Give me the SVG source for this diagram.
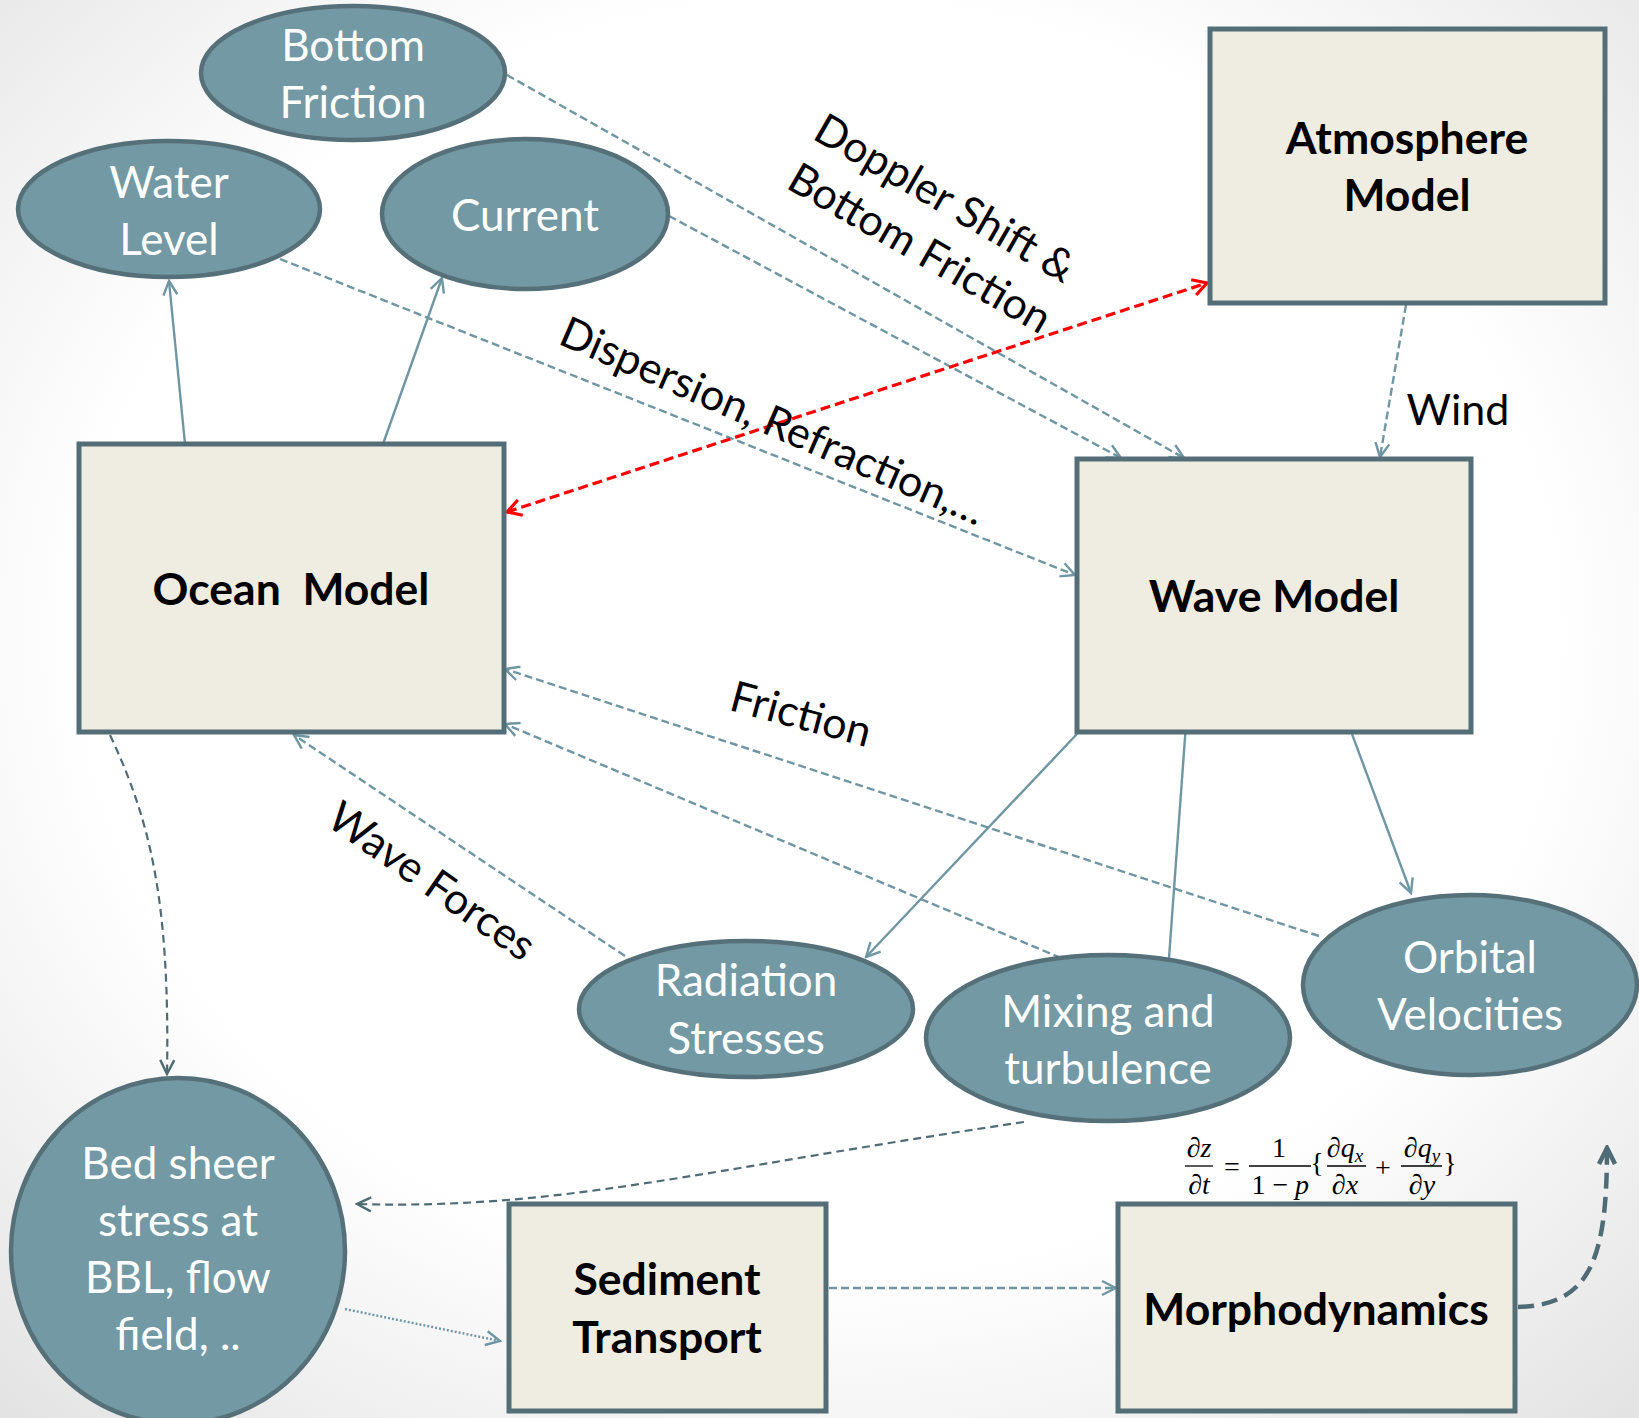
<svg xmlns="http://www.w3.org/2000/svg" width="1639" height="1418" viewBox="0 0 1639 1418">
<defs>
<radialGradient id="bg" cx="0.5" cy="0.45" r="0.75">
<stop offset="0.6" stop-color="#ffffff"/>
<stop offset="1" stop-color="#e2e2e2"/>
</radialGradient>
<marker id="aL" markerUnits="userSpaceOnUse" markerWidth="18" markerHeight="18" viewBox="0 0 18 18" refX="16" refY="9" orient="auto">
<path d="M2,2 L16,9 L2,16" fill="none" stroke="#6f96a2" stroke-width="2.4"/>
</marker>
<marker id="aD" markerUnits="userSpaceOnUse" markerWidth="18" markerHeight="18" viewBox="0 0 18 18" refX="16" refY="9" orient="auto">
<path d="M2,2 L16,9 L2,16" fill="none" stroke="#4f6b75" stroke-width="2.4"/>
</marker>
<marker id="aR" markerUnits="userSpaceOnUse" markerWidth="20" markerHeight="20" viewBox="0 0 20 20" refX="17" refY="10" orient="auto">
<path d="M3,2 L17,10 L3,18" fill="none" stroke="#ff0000" stroke-width="3.2"/>
</marker>
<marker id="aRs" markerUnits="userSpaceOnUse" markerWidth="20" markerHeight="20" viewBox="0 0 20 20" refX="17" refY="10" orient="auto-start-reverse">
<path d="M3,2 L17,10 L3,18" fill="none" stroke="#ff0000" stroke-width="3.2"/>
</marker>
<marker id="aB" markerUnits="userSpaceOnUse" markerWidth="22" markerHeight="22" viewBox="0 0 22 22" refX="19" refY="11" orient="auto">
<path d="M3,3 L19,11 L3,19" fill="none" stroke="#4f6b75" stroke-width="4.5"/>
</marker>
</defs>
<style>
.box{fill:#efede1;stroke:#546e78;stroke-width:5}
.ell{fill:#7399a5;stroke:#557079;stroke-width:4.5}
.bt{font-family:Lato,"Liberation Sans",sans-serif;font-weight:bold;font-size:44.5px;fill:#000;text-anchor:middle}
.et{font-family:Lato,"Liberation Sans",sans-serif;font-size:44px;fill:#fff;text-anchor:middle}
.lb{font-family:Lato,"Liberation Sans",sans-serif;font-size:43px;fill:#000;text-anchor:middle}
.c{fill:none;stroke:#6f96a2;stroke-width:2.4}
.dash{stroke-dasharray:8 4}
.dk{fill:none;stroke:#4f6b75;stroke-width:2.2;stroke-dasharray:8 5}
.m{font-family:"Liberation Serif",serif;font-style:italic;font-size:28px;fill:#000;text-anchor:middle}
.mu{font-family:"Liberation Serif",serif;font-size:28px;fill:#000;text-anchor:middle}
</style>
<rect width="1639" height="1418" fill="url(#bg)"/>

<g id="connectors">
<line class="c" x1="185" y1="444" x2="169" y2="281" marker-end="url(#aL)"/>
<line class="c" x1="383" y1="444" x2="442" y2="278" marker-end="url(#aL)"/>
<line class="c dash" x1="507" y1="75" x2="1184" y2="458" marker-end="url(#aL)"/>
<line class="c dash" x1="669" y1="216" x2="1121" y2="458" marker-end="url(#aL)"/>
<line class="c dash" x1="280" y1="259" x2="1075" y2="575" marker-end="url(#aL)"/>
<line x1="507" y1="512" x2="1207" y2="283" fill="none" stroke="#ff0000" stroke-width="3.2" stroke-dasharray="10 5" marker-start="url(#aRs)" marker-end="url(#aR)"/>
<line class="c dash" x1="1406" y1="305" x2="1380" y2="457" marker-end="url(#aL)"/>
<line class="c dash" x1="1319" y1="936" x2="505" y2="669" marker-end="url(#aL)"/>
<line class="c dash" x1="1061" y1="958" x2="505" y2="724" marker-end="url(#aL)"/>
<line class="c dash" x1="625" y1="956" x2="294" y2="735" marker-end="url(#aL)"/>
<line class="c" x1="1077" y1="734" x2="866" y2="957" marker-end="url(#aL)"/>
<line class="c" x1="1186" y1="724" x2="1169" y2="958"/>
<line class="c" x1="1352" y1="734" x2="1411" y2="893" marker-end="url(#aL)"/>
<path class="dk" d="M110,735 C150,820 170,900 167,1074" marker-end="url(#aD)"/>
<path class="dk" d="M1024,1122 C700,1170 560,1210 357,1204" stroke-width="2.8" marker-end="url(#aD)"/>
<line class="c" x1="345" y1="1309" x2="500" y2="1341" stroke-dasharray="2 2" marker-end="url(#aL)"/>
<line class="c dash" x1="829" y1="1288" x2="1116" y2="1288" marker-end="url(#aL)"/>
<path d="M1518,1307 C1590,1305 1607,1260 1607,1148" fill="none" stroke="#4f6b75" stroke-width="4.5" stroke-dasharray="16 8" marker-end="url(#aB)"/>
</g>

<g id="edge-labels">
<text class="lb" transform="translate(945,198) rotate(30)" y="15">Doppler Shift &amp;</text>
<text class="lb" transform="translate(920,248) rotate(30)" y="15">Bottom Friction</text>
<text class="lb" transform="translate(773,421) rotate(23.5)" y="15">Dispersion, Refraction,…</text>
<text class="lb" x="1458" y="425">Wind</text>
<text class="lb" transform="translate(801,714) rotate(15)" y="15">Friction</text>
<text class="lb" transform="translate(432,881) rotate(35)" y="15">Wave Forces</text>
</g>

<g id="bottom-friction"><ellipse class="ell" cx="353" cy="73" rx="152" ry="67"/><text class="et" x="353" y="61">Bottom</text><text class="et" x="353" y="118">Friction</text></g>
<g id="water-level"><ellipse class="ell" cx="169" cy="209" rx="151" ry="68"/><text class="et" x="169" y="198">Water</text><text class="et" x="169" y="255">Level</text></g>
<g id="current"><ellipse class="ell" cx="525" cy="214" rx="143" ry="75"/><text class="et" x="525" y="231">Current</text></g>
<g id="atmosphere-model"><rect class="box" x="1210" y="29" width="395" height="274"/><text class="bt" x="1407" y="154">Atmosphere</text><text class="bt" x="1407" y="211">Model</text></g>
<g id="ocean-model"><rect class="box" x="79" y="444" width="425" height="288"/><text class="bt" x="291" y="605" xml:space="preserve">Ocean  Model</text></g>
<g id="wave-model"><rect class="box" x="1077" y="459" width="394" height="273"/><text class="bt" x="1274" y="612">Wave Model</text></g>
<g id="radiation-stresses"><ellipse class="ell" cx="746" cy="1009" rx="167" ry="68"/><text class="et" x="746" y="996">Radiation</text><text class="et" x="746" y="1054">Stresses</text></g>
<g id="mixing-turbulence"><ellipse class="ell" cx="1108" cy="1038" rx="182" ry="83"/><text class="et" x="1108" y="1027">Mixing and</text><text class="et" x="1108" y="1084">turbulence</text></g>
<g id="orbital-velocities"><ellipse class="ell" cx="1470" cy="985" rx="167" ry="90"/><text class="et" x="1470" y="973">Orbital</text><text class="et" x="1470" y="1030">Velocities</text></g>
<g id="bed-sheer"><ellipse class="ell" cx="178" cy="1251" rx="167" ry="173"/><text class="et" x="178" y="1179">Bed sheer</text><text class="et" x="178" y="1236">stress at</text><text class="et" x="178" y="1293">BBL, flow</text><text class="et" x="178" y="1350">field, ..</text></g>
<g id="sediment-transport"><rect class="box" x="509" y="1204" width="317" height="207"/><text class="bt" x="667" y="1295">Sediment</text><text class="bt" x="667" y="1353">Transport</text></g>
<g id="morphodynamics"><rect class="box" x="1118" y="1204" width="397" height="207"/><text class="bt" x="1316" y="1325">Morphodynamics</text></g>

<g id="formula">
<text class="m" x="1199" y="1157">∂z</text>
<line x1="1185" y1="1166" x2="1213" y2="1166" stroke="#000" stroke-width="1.3"/>
<text class="m" x="1199" y="1194">∂t</text>
<text class="mu" x="1232" y="1176" font-size="32">=</text>
<text class="mu" x="1279" y="1157">1</text>
<line x1="1249" y1="1166" x2="1311" y2="1166" stroke="#000" stroke-width="1.3"/>
<text class="mu" x="1270" y="1194">1 −</text><text class="m" x="1302" y="1194">p</text>
<text class="mu" x="1317" y="1172">{</text>
<text class="m" x="1345" y="1157">∂q<tspan font-size="19" dy="5">x</tspan></text>
<line x1="1327" y1="1166" x2="1366" y2="1166" stroke="#000" stroke-width="1.3"/>
<text class="m" x="1345" y="1194">∂x</text>
<text class="mu" x="1383" y="1177" font-size="32">+</text>
<text class="m" x="1422" y="1157">∂q<tspan font-size="19" dy="5">y</tspan></text>
<line x1="1401" y1="1166" x2="1442" y2="1166" stroke="#000" stroke-width="1.3"/>
<text class="m" x="1422" y="1194">∂y</text>
<text class="mu" x="1450" y="1172">}</text>
</g>
</svg>
